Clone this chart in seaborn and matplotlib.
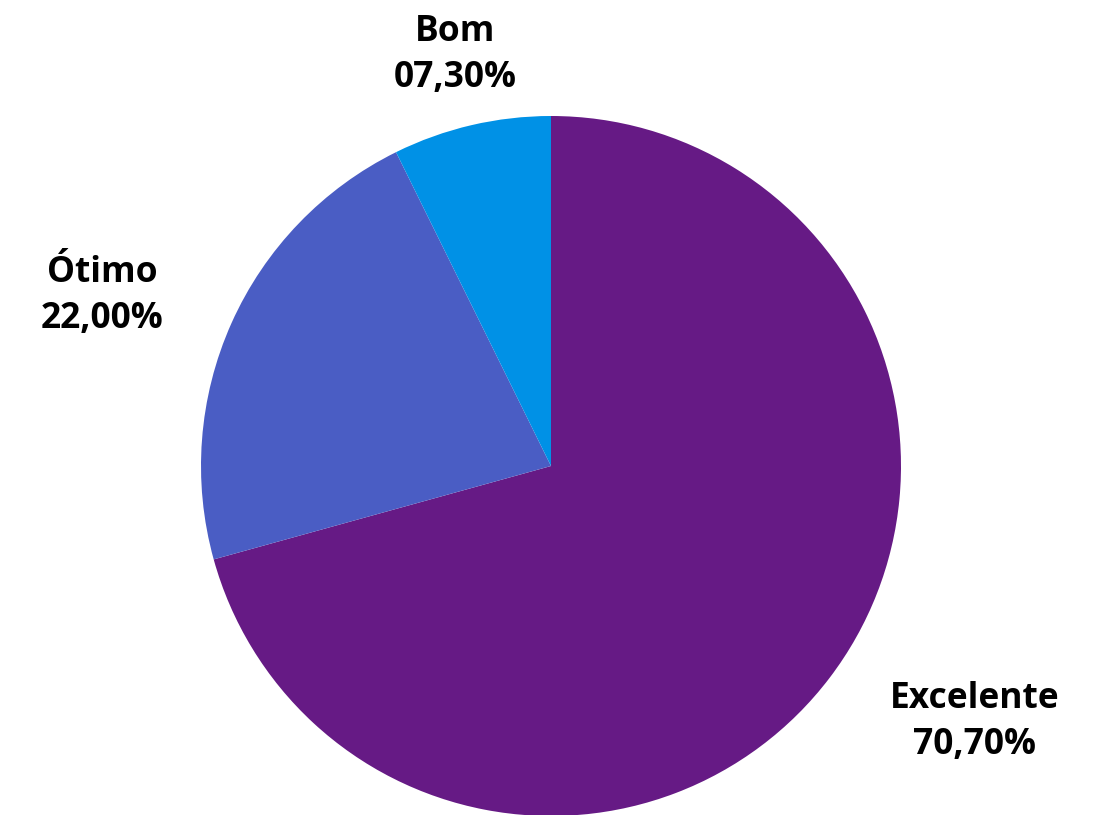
import matplotlib
matplotlib.use("Agg")
import matplotlib.pyplot as plt
import seaborn as sns

categories = ["Excelente", "Ótimo", "Bom"]
values = [70.70, 22.00, 7.30]
value_labels = ["70,70%", "22,00%", "07,30%"]
colors = ["#661A85", "#4A5DC4", "#0091E6"]

sns.set_theme(style="white")
plt.rcParams['font.family'] = ['Open Sans', 'DejaVu Sans']

fig = plt.figure(figsize=(11.04, 8.15), dpi=100)
# square axes in pixels: centre (551, 466), radius 350
ax = fig.add_axes([201 / 1104, -1 / 815, 700 / 1104, 700 / 815])
ax.pie(values, colors=colors, startangle=90, counterclock=False,
       radius=1.0, wedgeprops=dict(linewidth=0))
ax.set_xlim(-1, 1)
ax.set_ylim(-1, 1)
ax.set_aspect('equal')
ax.axis('off')

# label positions in figure pixels (x, y from top)
label_pos = [(975, 722), (102, 296), (455, 55)]
for cat, lab, (px, py) in zip(categories, value_labels, label_pos):
    fig.text(px / 1104, 1 - py / 815, f"{cat}\n{lab}", ha='center', va='center',
             fontsize=25.5, fontweight='bold', color='black', linespacing=1.37)

fig.savefig("out.png", dpi=100, facecolor='white')
